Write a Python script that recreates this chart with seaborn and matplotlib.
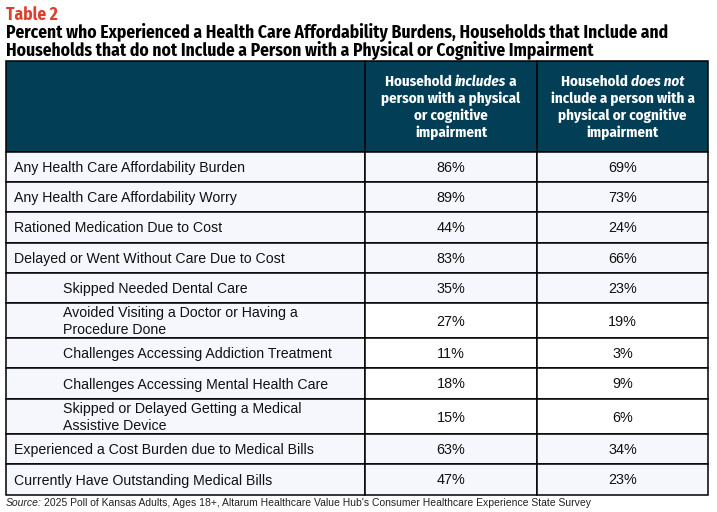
import seaborn as sns
import matplotlib.pyplot as plt

# rows of the table
labels = [
    ['Any Health Care Affordability Burden'],
    ['Any Health Care Affordability Worry'],
    ['Rationed Medication Due to Cost'],
    ['Delayed or Went Without Care Due to Cost'],
    ['Skipped Needed Dental Care'],
    ['Avoided Visiting a Doctor or Having a', 'Procedure Done'],
    ['Challenges Accessing Addiction Treatment'],
    ['Challenges Accessing Mental Health Care'],
    ['Skipped or Delayed Getting a Medical', 'Assistive Device'],
    ['Experienced a Cost Burden due to Medical Bills'],
    ['Currently Have Outstanding Medical Bills'],
]
indented = [0, 0, 0, 0, 1, 1, 1, 1, 1, 0, 0]
with_impairment = [86, 89, 44, 83, 35, 27, 11, 18, 15, 63, 47]
without_impairment = [69, 73, 24, 66, 23, 19, 3, 9, 6, 34, 23]
shaded = [1, 1, 1, 1, 1, 0, 0, 0, 0, 1, 1]

title_lines = ['Percent who Experienced a Health Care Affordability Burdens, Households that Include and',
               'Households that do not Include a Person with a Physical or Cognitive Impairment']
header_1 = [[('Household ', 'normal'), ('includes', 'italic'), (' a', 'normal')],
            [('person with a physical', 'normal')],
            [('or cognitive', 'normal')],
            [('impairment', 'normal')]]
header_2 = [[('Household ', 'normal'), ('does not', 'italic')],
            [('include a person with a', 'normal')],
            [('physical or cognitive', 'normal')],
            [('impairment', 'normal')]]
source = "2025 Poll of Kansas Adults, Ages 18+, Altarum Healthcare Value Hub's Consumer Healthcare Experience State Survey"

# layout in pixels
row_edges = [152, 182, 212, 243, 273, 303, 338, 368, 399, 434, 464, 495]
col_edges = [6, 365, 537, 708]
header_top = 61

TEAL = '#023f57'
LIGHT = '#f6f7fd'
RED = '#de3f2c'
COND = ['Fira Sans Condensed', 'Roboto Condensed', 'Liberation Sans']
ARIAL = ['Liberation Sans', 'DejaVu Sans']
LW = 1.1

sns.set_theme(style='white')
fig = plt.figure(figsize=(7.17, 5.12), dpi=100)
ax = fig.add_axes([0, 0, 1, 1])
ax.set_xlim(0, 717)
ax.set_ylim(512, 0)
ax.axis('off')
renderer = fig.canvas.get_renderer()


def width_of(txt, **kw):
    t = ax.text(0, 0, txt, fontsize=10, **kw)
    w = t.get_window_extent(renderer).width
    t.remove()
    return w


def fit(txt, target, **kw):
    return 10 * target / width_of(txt, **kw)


def rich_line(x, y, parts, size, color):
    # parts: list of (text, style), centred on x
    arts = []
    total = 0
    for txt, style in parts:
        t = ax.text(0, y, txt, fontsize=size, color=color, fontweight='bold',
                    fontstyle=style, family=COND, va='baseline', ha='left')
        w = t.get_window_extent(renderer).width
        arts.append((t, w))
        total += w
    cur = x - total / 2
    for t, w in arts:
        t.set_x(cur)
        cur += w


# font sizes fitted to the widths seen in the reference
title_size = fit(title_lines[0], 663, family=COND, fontweight='bold')
table_size = fit('Table 2', 52, family=COND, fontweight='bold')
head_size = fit('person with a physical', 139, family=COND, fontweight='bold')
label_size = fit('Any Health Care Affordability Burden', 230, family=ARIAL)
value_size = fit('86%', 29, family=ARIAL)
source_size = fit('Source: ' + source, 587, family=ARIAL)

# header
ax.barh((header_top + row_edges[0]) / 2, col_edges[-1] - col_edges[0],
        height=row_edges[0] - header_top, left=col_edges[0], color=TEAL,
        edgecolor='black', linewidth=LW)
for xe in col_edges[1:3]:
    ax.plot([xe, xe], [header_top, row_edges[0]], color='black', lw=LW)

c1 = (col_edges[1] + col_edges[2]) / 2
c2 = (col_edges[2] + col_edges[3]) / 2
head_base = [86, 103, 120, 137]
for parts, yb in zip(header_1, head_base):
    rich_line(c1, yb, parts, head_size, 'white')
for parts, yb in zip(header_2, head_base):
    rich_line(c2, yb, parts, head_size, 'white')

# body rows
for i, lines in enumerate(labels):
    top, bot = row_edges[i], row_edges[i + 1]
    yc = (top + bot) / 2
    h = bot - top
    ax.barh(yc, col_edges[1] - col_edges[0], height=h, left=col_edges[0],
            color=LIGHT, edgecolor='black', linewidth=LW)
    fill = LIGHT if shaded[i] else 'white'
    for j in range(1, 3):
        ax.barh(yc, col_edges[j + 1] - col_edges[j], height=h, left=col_edges[j],
                color=fill, edgecolor='black', linewidth=LW)
    xl = 63 if indented[i] else 14
    if len(lines) == 1:
        ax.text(xl, yc + 5, lines[0], fontsize=label_size, family=ARIAL,
                color='#111111', va='baseline', ha='left')
    else:
        ax.text(xl, yc - 3, lines[0], fontsize=label_size, family=ARIAL,
                color='#111111', va='baseline', ha='left')
        ax.text(xl, yc + 14, lines[1], fontsize=label_size, family=ARIAL,
                color='#111111', va='baseline', ha='left')
    ax.text(c1, yc + 5, f'{with_impairment[i]}%', fontsize=value_size, family=ARIAL,
            color='#111111', va='baseline', ha='center')
    ax.text(c2, yc + 5, f'{without_impairment[i]}%', fontsize=value_size, family=ARIAL,
            color='#111111', va='baseline', ha='center')

# titles
ax.text(6, 19.5, 'Table 2', fontsize=table_size, fontweight='bold', color=RED,
        family=COND, va='baseline', ha='left')
ax.text(6, 38, title_lines[0], fontsize=title_size, fontweight='bold',
        color='black', family=COND, va='baseline', ha='left')
ax.text(6, 55.5, title_lines[1], fontsize=title_size, fontweight='bold',
        color='black', family=COND, va='baseline', ha='left')

# source note
s = ax.text(6, 506, 'Source:', fontsize=source_size, fontstyle='italic', family=ARIAL,
            color='#222222', va='baseline', ha='left')
sw = s.get_window_extent(renderer).width
ax.text(6 + sw + 2, 506, source, fontsize=source_size, family=ARIAL,
        color='#222222', va='baseline', ha='left')

fig.savefig('out.png', dpi=100)
